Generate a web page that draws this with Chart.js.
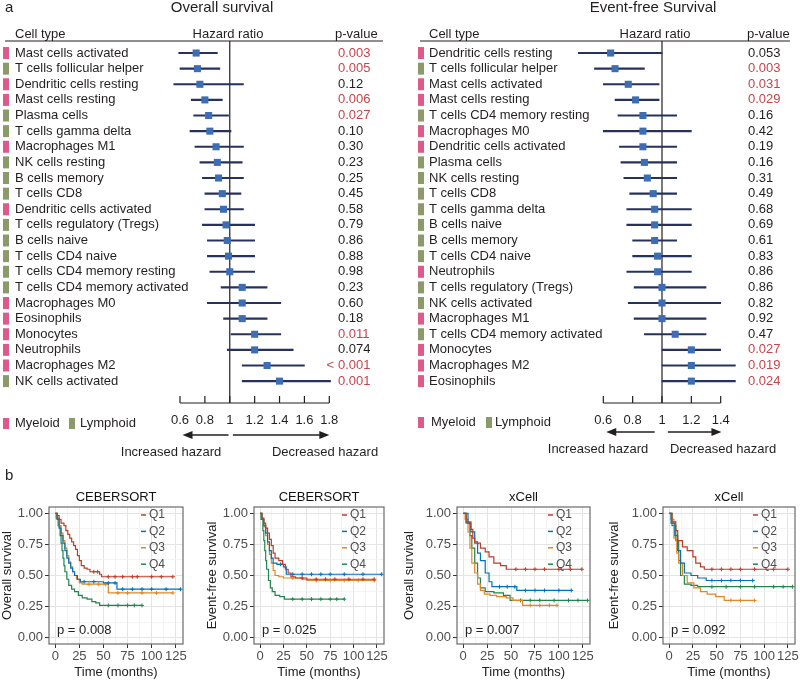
<!DOCTYPE html>
<html>
<head>
<meta charset="utf-8">
<script src="https://cdn.jsdelivr.net/npm/chart.js@4.4.1/dist/chart.umd.min.js"></script>
<style>
  html, body { margin: 0; padding: 0; background: #fff; }
  #page { position: relative; width: 800px; height: 680px; overflow: hidden; font-family: 'Liberation Sans', Arial, sans-serif; }
  canvas { position: absolute; }
  .tag { position: absolute; font-size: 15px; line-height: 17px; color: #231f20; }
</style>
</head>
<body>
<div id="page">
  <canvas id="osForest" width="400" height="470" style="left:0;top:0"></canvas>
  <canvas id="efsForest" width="400" height="470" style="left:400px;top:0"></canvas>
  <canvas id="km1" width="200" height="190" style="left:0;top:490px"></canvas>
  <canvas id="km2" width="200" height="190" style="left:200px;top:490px"></canvas>
  <canvas id="km3" width="200" height="190" style="left:400px;top:490px"></canvas>
  <canvas id="km4" width="200" height="190" style="left:600px;top:490px"></canvas>
  <div class="tag" style="left:5px;top:-2px">a</div>
  <div class="tag" style="left:5px;top:466px">b</div>
</div>
<script>
// ---- panel a: overall survival ----
const osCells = ["Mast cells activated", "T cells follicular helper", "Dendritic cells resting", "Mast cells resting",
  "Plasma cells", "T cells gamma delta", "Macrophages M1", "NK cells resting", "B cells memory", "T cells CD8",
  "Dendritic cells activated", "T cells regulatory (Tregs)", "B cells naive", "T cells CD4 naive",
  "T cells CD4 memory resting", "T cells CD4 memory activated", "Macrophages M0", "Eosinophils", "Monocytes",
  "Neutrophils", "Macrophages M2", "NK cells activated"];
const osGroup = ["M", "L", "M", "M", "L", "L", "M", "L", "L", "L", "M", "L", "L", "L", "L", "L", "M", "M", "M", "M", "M", "L"];
const osHr = [0.73, 0.74, 0.76, 0.80, 0.83, 0.84, 0.89, 0.90, 0.91, 0.94, 0.95, 0.97, 0.98, 0.99, 1.00, 1.10, 1.10, 1.10, 1.20, 1.20, 1.30, 1.40];
const osLo = [0.59, 0.60, 0.55, 0.69, 0.71, 0.68, 0.72, 0.76, 0.78, 0.80, 0.80, 0.78, 0.82, 0.82, 0.84, 0.93, 0.82, 0.95, 1.01, 0.98, 1.10, 1.10];
const osHi = [0.90, 0.92, 1.11, 0.94, 0.99, 1.01, 1.11, 1.10, 1.11, 1.09, 1.11, 1.20, 1.20, 1.20, 1.20, 1.30, 1.41, 1.30, 1.41, 1.51, 1.60, 1.81];
const osP = ["0.003", "0.005", "0.12", "0.006", "0.027", "0.10", "0.30", "0.23", "0.25", "0.45", "0.58", "0.79",
  "0.86", "0.88", "0.98", "0.23", "0.60", "0.18", "0.011", "0.074", "< 0.001", "0.001"];

// ---- panel a: event-free survival ----
const efsCells = ["Dendritic cells resting", "T cells follicular helper", "Mast cells activated", "Mast cells resting",
  "T cells CD4 memory resting", "Macrophages M0", "Dendritic cells activated", "Plasma cells", "NK cells resting",
  "T cells CD8", "T cells gamma delta", "B cells naive", "B cells memory", "T cells CD4 naive", "Neutrophils",
  "T cells regulatory (Tregs)", "NK cells activated", "Macrophages M1", "T cells CD4 memory activated",
  "Monocytes", "Macrophages M2", "Eosinophils"];
const efsGroup = ["M", "L", "M", "M", "L", "M", "M", "L", "L", "L", "L", "L", "L", "L", "M", "L", "L", "M", "L", "M", "M", "M"];
const efsHr = [0.65, 0.68, 0.77, 0.82, 0.87, 0.87, 0.87, 0.88, 0.90, 0.94, 0.95, 0.95, 0.95, 0.97, 0.97, 1.00, 1.00, 1.00, 1.09, 1.20, 1.20, 1.20];
const efsLo = [0.43, 0.54, 0.60, 0.68, 0.70, 0.60, 0.71, 0.72, 0.74, 0.78, 0.76, 0.76, 0.80, 0.80, 0.76, 0.81, 0.77, 0.81, 0.88, 1.00, 1.00, 1.00];
const efsHi = [1.00, 0.88, 0.98, 0.98, 1.10, 1.20, 1.10, 1.10, 1.10, 1.10, 1.20, 1.20, 1.10, 1.20, 1.20, 1.30, 1.40, 1.30, 1.30, 1.40, 1.50, 1.50];
const efsP = ["0.053", "0.003", "0.031", "0.029", "0.16", "0.42", "0.19", "0.16", "0.31", "0.49", "0.68", "0.69",
  "0.61", "0.83", "0.86", "0.86", "0.82", "0.92", "0.47", "0.027", "0.019", "0.024"];

const osTicks = [0.6, 1.8];   // axis range of the OS forest
const efsTicks = [0.6, 1.4];  // axis range of the EFS forest

// ---- panel b: Kaplan-Meier curves, [months, survival] ----
const cebOsQ1 = [[0,1],[2,0.98],[4,0.95],[6,0.92],[9,0.9],[11,0.86],[13,0.83],[15,0.8],[17,0.77],[19,0.74],[21,0.71],[23,0.66],[25,0.62],[27,0.58],[30,0.56],[33,0.55],[36,0.53],[40,0.53],[44,0.53],[46,0.51],[48,0.49],[55,0.49],[62,0.49],[70,0.49],[80,0.49],[85,0.49],[100,0.49],[110,0.49],[122,0.49]];
const cebOsQ2 = [[0,1],[2,0.95],[4,0.88],[6,0.82],[8,0.76],[10,0.7],[12,0.64],[14,0.6],[16,0.56],[18,0.53],[20,0.5],[23,0.47],[26,0.45],[30,0.45],[40,0.45],[50,0.44],[55,0.44],[62,0.44],[64,0.39],[70,0.39],[80,0.39],[90,0.39],[100,0.39],[115,0.39],[130,0.39]];
const cebOsQ3 = [[0,1],[2,0.95],[4,0.9],[6,0.84],[8,0.78],[10,0.72],[12,0.66],[14,0.61],[16,0.57],[18,0.53],[20,0.5],[22,0.47],[25,0.44],[28,0.43],[35,0.43],[45,0.43],[52,0.43],[55,0.36],[65,0.36],[75,0.36],[90,0.36],[105,0.36],[122,0.36]];
const cebOsQ4 = [[0,1],[1,0.96],[3,0.9],[5,0.82],[6,0.76],[7,0.7],[8,0.64],[9,0.58],[10,0.53],[12,0.47],[14,0.42],[17,0.39],[20,0.37],[24,0.34],[28,0.32],[33,0.31],[38,0.29],[42,0.28],[46,0.26],[55,0.26],[65,0.26],[75,0.26],[82,0.26],[90,0.26]];

const cebEfsQ1 = [[0,1],[2,0.96],[4,0.92],[6,0.88],[8,0.84],[10,0.79],[12,0.74],[14,0.68],[16,0.64],[20,0.62],[24,0.59],[27,0.55],[30,0.52],[33,0.49],[38,0.48],[45,0.48],[50,0.47],[60,0.47],[70,0.47],[80,0.47],[95,0.47],[110,0.47],[122,0.47]];
const cebEfsQ2 = [[0,1],[2,0.95],[4,0.9],[6,0.84],[8,0.77],[10,0.7],[12,0.64],[14,0.6],[18,0.59],[22,0.59],[25,0.57],[28,0.51],[35,0.51],[45,0.51],[55,0.51],[65,0.51],[75,0.51],[90,0.51],[110,0.51],[130,0.51]];
const cebEfsQ3 = [[0,1],[2,0.95],[4,0.89],[6,0.82],[8,0.75],[10,0.67],[12,0.6],[14,0.54],[16,0.5],[20,0.49],[25,0.48],[35,0.48],[45,0.47],[50,0.46],[60,0.46],[75,0.46],[90,0.46],[105,0.46],[122,0.46]];
const cebEfsQ4 = [[0,1],[1,0.95],[3,0.86],[4,0.78],[5,0.7],[6,0.62],[7,0.55],[9,0.46],[11,0.4],[13,0.37],[16,0.34],[21,0.33],[26,0.31],[35,0.31],[45,0.31],[55,0.31],[65,0.31],[75,0.31],[82,0.31],[90,0.31]];

const xcOsQ1 = [[0,1],[3,0.93],[8,0.87],[10,0.8],[12,0.76],[18,0.72],[23,0.69],[27,0.65],[32,0.6],[39,0.58],[45,0.55],[55,0.55],[65,0.55],[75,0.55],[85,0.55],[100,0.55],[112,0.55],[124,0.55]];
const xcOsQ2 = [[0,1],[5,0.92],[8,0.85],[12,0.77],[15,0.68],[18,0.62],[23,0.52],[27,0.45],[30,0.41],[38,0.41],[46,0.41],[54,0.41],[56,0.38],[65,0.38],[75,0.38],[85,0.38],[100,0.38],[113,0.38]];
const xcOsQ3 = [[0,1],[2,0.95],[5,0.85],[7,0.72],[9,0.6],[12,0.52],[15,0.43],[18,0.38],[22,0.35],[28,0.34],[35,0.33],[45,0.32],[52,0.3],[62,0.26],[70,0.26],[80,0.26],[90,0.26],[98,0.26]];
const xcOsQ4 = [[0,1],[3,0.92],[7,0.82],[9,0.72],[12,0.6],[15,0.48],[18,0.4],[23,0.37],[32,0.36],[42,0.34],[49,0.3],[60,0.3],[70,0.3],[80,0.3],[95,0.3],[110,0.3],[120,0.3],[130,0.3]];

const xcEfsQ1 = [[0,1],[3,0.93],[7,0.86],[9,0.78],[14,0.73],[19,0.7],[25,0.65],[28,0.6],[33,0.57],[37,0.55],[45,0.55],[55,0.55],[65,0.55],[75,0.55],[90,0.55],[110,0.55],[125,0.55]];
const xcEfsQ2 = [[0,1],[2,0.92],[6,0.82],[9,0.7],[12,0.6],[16,0.52],[23,0.5],[30,0.48],[39,0.46],[45,0.46],[55,0.46],[65,0.46],[75,0.46],[88,0.46]];
const xcEfsQ3 = [[0,1],[2,0.95],[5,0.8],[8,0.68],[10,0.6],[14,0.5],[19,0.44],[26,0.4],[33,0.37],[40,0.35],[49,0.33],[58,0.3],[65,0.3],[75,0.3],[90,0.3]];
const xcEfsQ4 = [[0,1],[3,0.9],[7,0.78],[10,0.62],[12,0.5],[16,0.43],[23,0.42],[30,0.41],[45,0.41],[60,0.41],[75,0.41],[90,0.41],[110,0.41],[120,0.41],[130,0.41]];

const FONT = "'Liberation Sans', Arial, sans-serif";
const INK = "#231f20";
const PINK = "#de5a8b";
const GREEN = "#8c9a6b";
const RED = "#c5454c";
const BLUE = "#3d6db4";
const NAVY = "#27325c";
const Q_COLORS = ["#BC3C29", "#0072B5", "#E18727", "#20854E"];

Chart.defaults.font.family = FONT;

const isSig = p => p.startsWith("<") || parseFloat(p) < 0.05;

function arrow(ctx, x0, x1, y) {
  const d = Math.sign(x1 - x0);
  ctx.beginPath();
  ctx.moveTo(x0, y);
  ctx.lineTo(x1 - d * 4, y);
  ctx.stroke();
  ctx.beginPath();
  ctx.moveTo(x1, y);
  ctx.lineTo(x1 - d * 10, y - 4);
  ctx.lineTo(x1 - d * 10, y + 4);
  ctx.closePath();
  ctx.fill();
}

function forestDeco(o) {
  return {
    id: "forestDeco",
    beforeDatasetsDraw(chart) {
      const { ctx, chartArea: a, scales: { x } } = chart;
      const px = x.getPixelForValue(1);
      ctx.save();
      ctx.strokeStyle = INK;
      ctx.lineWidth = 1.2;
      ctx.beginPath();
      ctx.moveTo(px, a.top);
      ctx.lineTo(px, a.bottom);
      ctx.stroke();
      ctx.restore();
    },
    afterDraw(chart) {
      const { ctx, chartArea: a, scales: { x, y } } = chart;
      ctx.save();
      ctx.textBaseline = "middle";
      ctx.fillStyle = INK;
      ctx.font = "15px " + FONT;
      ctx.textAlign = "center";
      ctx.fillText(o.title, o.titleX, 8);

      ctx.font = "13px " + FONT;
      ctx.textAlign = "left";
      ctx.fillText("Cell type", o.labelX, 34);
      ctx.fillText("p-value", o.pHeadX, 34);
      ctx.textAlign = "center";
      ctx.fillText("Hazard ratio", o.hrHeadX, 34);

      ctx.strokeStyle = INK;
      ctx.lineWidth = 1.2;
      ctx.beginPath();
      ctx.moveTo(o.ruleX[0], a.top);
      ctx.lineTo(o.ruleX[1], a.top);
      ctx.stroke();

      o.cells.forEach((c, i) => {
        const py = y.getPixelForValue(i);
        ctx.fillStyle = o.groups[i] === "M" ? PINK : GREEN;
        ctx.fillRect(o.sqX, py - 6, 6, 12);
        ctx.fillStyle = INK;
        ctx.textAlign = "left";
        ctx.fillText(c, o.labelX, py);
        const p = o.pv[i];
        ctx.fillStyle = isSig(p) ? RED : INK;
        if (p.startsWith("<")) {
          ctx.fillText(p.slice(1).trim(), o.pX, py);
          ctx.textAlign = "right";
          ctx.fillText("<", o.pX - 4, py);
        } else {
          ctx.fillText(p, o.pX, py);
        }
      });

      // hazard ratio axis with ticks pointing up
      ctx.strokeStyle = INK;
      ctx.lineWidth = 1.2;
      ctx.beginPath();
      ctx.moveTo(x.getPixelForValue(x.min), a.bottom);
      ctx.lineTo(x.getPixelForValue(x.max), a.bottom);
      x.ticks.forEach(t => {
        const px = x.getPixelForValue(t.value);
        ctx.moveTo(px, a.bottom);
        ctx.lineTo(px, a.bottom - 7);
      });
      ctx.stroke();

      // group legend
      ctx.textAlign = "left";
      ctx.fillStyle = PINK;
      ctx.fillRect(o.legend[0], o.legendY - 5, 6, 11);
      ctx.fillStyle = GREEN;
      ctx.fillRect(o.legend[2], o.legendY - 5, 6, 11);
      ctx.fillStyle = INK;
      ctx.fillText("Myeloid", o.legend[1], o.legendY);
      ctx.fillText("Lymphoid", o.legend[3], o.legendY);

      // direction arrows
      ctx.fillStyle = INK;
      ctx.lineWidth = 1.6;
      arrow(ctx, x.getPixelForValue(o.arrowL[0]), x.getPixelForValue(o.arrowL[1]), o.arrowY);
      arrow(ctx, x.getPixelForValue(o.arrowR[0]), x.getPixelForValue(o.arrowR[1]), o.arrowY);
      ctx.textAlign = "center";
      ctx.fillText("Increased hazard", o.noteX[0], o.noteY);
      ctx.fillText("Decreased hazard", o.noteX[1], o.noteY);
      ctx.restore();
    }
  };
}

function makeForest(id, cells, groups, hr, lo, hi, pv, range, o) {
  const rows = cells.map((_, i) => i);
  new Chart(document.getElementById(id), {
    type: "bar",
    data: {
      datasets: [
        {
          type: "bar",
          data: rows.map(i => ({ y: i, x: [lo[i], hi[i]] })),
          backgroundColor: NAVY,
          borderWidth: 0,
          barThickness: 1.5,
          clip: false,
          order: 2
        },
        {
          type: "scatter",
          data: rows.map(i => ({ x: hr[i], y: i })),
          pointStyle: "rect",
          pointRadius: 5,
          backgroundColor: BLUE,
          borderColor: BLUE,
          borderWidth: 0,
          clip: false,
          order: 1
        }
      ]
    },
    options: {
      indexAxis: "y",
      responsive: false,
      animation: false,
      events: [],
      layout: { padding: { left: o.padLeft, right: o.padRight, top: 41, bottom: 0 } },
      scales: {
        x: {
          type: "linear",
          min: range[0],
          max: range[1],
          offset: false,
          afterFit: s => { s.height = 67; },
          grid: { display: false, drawTicks: false, offset: false },
          border: { display: false },
          ticks: {
            stepSize: 0.2,
            padding: 10,
            autoSkip: false,
            maxRotation: 0,
            color: INK,
            font: { size: 13 },
            callback: v => String(+v.toFixed(2))
          }
        },
        y: {
          type: "linear", display: false, reverse: true, offset: false,
          grid: { offset: false }, min: -0.77, max: 22.4
        }
      },
      plugins: { legend: { display: false }, tooltip: { enabled: false } }
    },
    plugins: [forestDeco(Object.assign({ cells, groups, pv }, o))]
  });
}

makeForest("osForest", osCells, osGroup, osHr, osLo, osHi, osP, osTicks, {
  title: "Overall survival", titleX: 222, padLeft: 180, padRight: 70.7,
  labelX: 15, sqX: 3, pX: 338, pHeadX: 335, hrHeadX: 228, ruleX: [5, 383],
  legend: [3, 15, 69, 80], legendY: 423,
  arrowY: 435, arrowL: [0.99, 0.62], arrowR: [1.025, 1.8], noteX: [171, 325], noteY: 452
});

makeForest("efsForest", efsCells, efsGroup, efsHr, efsLo, efsHi, efsP, efsTicks, {
  title: "Event-free Survival", titleX: 253, padLeft: 203.3, padRight: 79.3,
  labelX: 29, sqX: 18, pX: 348, pHeadX: 347, hrHeadX: 255, ruleX: [20, 390],
  legend: [18, 31, 86, 95], legendY: 422,
  arrowY: 432, arrowL: [0.95, 0.62], arrowR: [1.04, 1.405], noteX: [198, 323], noteY: 449
});

// ---- Kaplan-Meier panels ----
const kmDeco = {
  id: "kmDeco",
  afterDatasetsDraw(chart, args, opts) {
    const { ctx, chartArea: a } = chart;
    ctx.save();
    ctx.strokeStyle = "#6b6b6b";
    ctx.lineWidth = 1.2;
    ctx.strokeRect(a.left, a.top, a.right - a.left, a.bottom - a.top);
    ctx.textBaseline = "middle";
    ctx.textAlign = "left";
    ctx.font = "12px " + FONT;
    chart.data.datasets.forEach((ds, k) => {
      const py = a.top + 8 + k * 16.4;
      ctx.strokeStyle = ds.borderColor;
      ctx.lineWidth = 1.5;
      ctx.beginPath();
      ctx.moveTo(a.right - 42, py);
      ctx.lineTo(a.right - 37, py);
      ctx.stroke();
      ctx.fillStyle = "#4d4d4d";
      ctx.fillText(ds.label, a.right - 34, py);
    });
    ctx.font = "13px " + FONT;
    ctx.fillStyle = "#222";
    ctx.fillText(opts.text, a.left + 8, a.bottom - 14);
    ctx.restore();
  }
};

const isMajor = (v, step) => Math.abs(v / step - Math.round(v / step)) < 1e-6;
const isCensor = ctx => ctx.dataIndex > 0 &&
  ctx.dataset.data[ctx.dataIndex].y === ctx.dataset.data[ctx.dataIndex - 1].y;

function makeKM(id, title, yTitle, curves, pText, yW, padRight, yTitlePad) {
  const gridOpts = step => ({
    color: c => (c.tick && isMajor(c.tick.value, step) ? "#e4e4e4" : "#efefef"),
    lineWidth: c => (c.tick && isMajor(c.tick.value, step) ? 1 : 0.7),
    tickColor: c => (c.tick && isMajor(c.tick.value, step) ? "#333" : "rgba(0,0,0,0)"),
    tickLength: 4
  });
  new Chart(document.getElementById(id), {
    type: "line",
    data: {
      datasets: curves.map((c, k) => ({
        label: "Q" + (k + 1),
        data: c.map(p => ({ x: p[0], y: p[1] })),
        borderColor: Q_COLORS[k],
        backgroundColor: Q_COLORS[k],
        borderWidth: 1.2,
        stepped: true,
        pointStyle: "cross",
        pointRadius: ctx => (isCensor(ctx) ? 2 : 0),
        pointBorderWidth: 1,
        pointHoverRadius: 0
      }))
    },
    options: {
      responsive: false,
      animation: false,
      events: [],
      layout: { padding: { top: 0, right: padRight, bottom: 0, left: 0 } },
      scales: {
        x: {
          type: "linear",
          min: -6.5,
          max: 132.5,
          afterFit: s => { s.height = 36; },
          border: { display: false },
          grid: gridOpts(25),
          title: { display: true, text: "Time (months)", color: "#222", font: { size: 13 }, padding: { top: 0, bottom: 0 } },
          ticks: {
            stepSize: 12.5,
            includeBounds: false,
            autoSkip: false,
            maxRotation: 0,
            padding: 1,
            color: "#4d4d4d",
            font: { size: 13 },
            callback: v => (isMajor(v, 25) ? String(v) : "")
          }
        },
        y: {
          type: "linear",
          min: -0.05,
          max: 1.05,
          afterFit: s => { s.width = yW; },
          border: { display: false },
          grid: gridOpts(0.25),
          title: { display: true, text: yTitle, color: "#222", font: { size: 13 }, padding: { top: yTitlePad, bottom: 0 } },
          ticks: {
            stepSize: 0.125,
            includeBounds: false,
            autoSkip: false,
            padding: 2,
            color: "#4d4d4d",
            font: { size: 13 },
            callback: v => (isMajor(v, 0.25) ? v.toFixed(2) : "")
          }
        }
      },
      plugins: {
        legend: { display: false },
        tooltip: { enabled: false },
        title: {
          display: true, text: title, fullSize: false, color: "#111",
          font: { size: 13, weight: "normal" }, padding: { top: 0, bottom: 1.4 }
        },
        kmDeco: { text: pText }
      }
    },
    plugins: [kmDeco]
  });
}

makeKM("km1", "CEBERSORT", "Overall survival", [cebOsQ1, cebOsQ2, cebOsQ3, cebOsQ4], "p = 0.008", 49, 17, 0);
makeKM("km2", "CEBERSORT", "Event-free survival", [cebEfsQ1, cebEfsQ2, cebEfsQ3, cebEfsQ4], "p = 0.025", 54, 16, 5);
makeKM("km3", "xCell", "Overall survival", [xcOsQ1, xcOsQ2, xcOsQ3, xcOsQ4], "p = 0.007", 57, 10, 2);
makeKM("km4", "xCell", "Event-free survival", [xcEfsQ1, xcEfsQ2, xcEfsQ3, xcEfsQ4], "p = 0.092", 63, 3, 7);
</script>
</body>
</html>
